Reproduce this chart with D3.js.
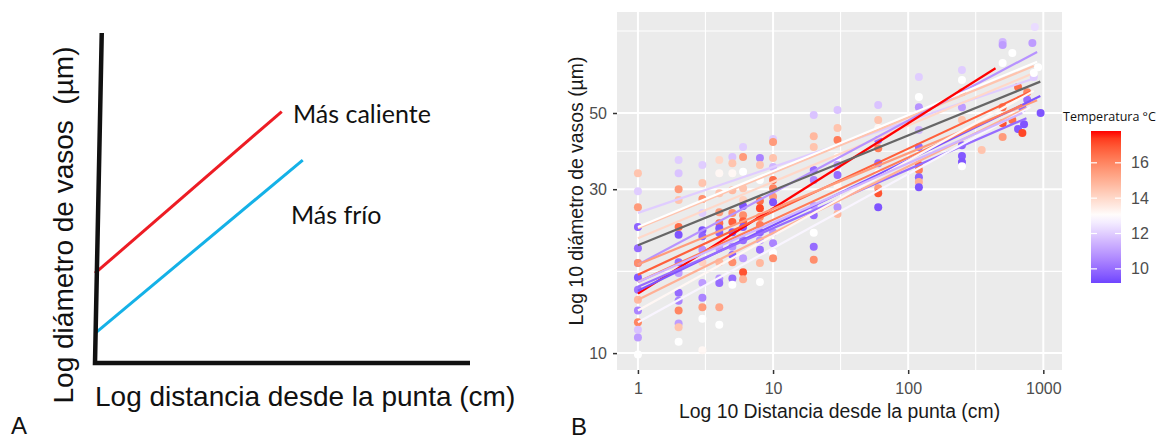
<!DOCTYPE html>
<html>
<head>
<meta charset="utf-8">
<script src="https://cdn.jsdelivr.net/npm/d3@7"></script>
<style>
  html, body { margin: 0; padding: 0; background: #fff; }
  svg { display: block; }
  text { font-family: "Liberation Sans", Arial, sans-serif; }
</style>
</head>
<body>
<svg id="chart" width="1166" height="441"></svg>
<script>
// ---- panel A (schematic, arbitrary 0..10 units) ----
const schemeAxes = [[0.18, 10], [0, 0], [10, 0]]
const warmLine = [[0, 2.72], [4.98, 7.62]]
const coldLine = [[0, 0.9], [5.54, 6.15]]

// ---- panel B ----
const xBreaks = [1, 10, 100, 1000]
const xMinor = [3.16, 31.6, 316]
const yBreaks = [10, 30, 50]
const yMinor = [17.3, 38.7, 86.6]
const legendBreaks = [10, 12, 14, 16]
const tempLimits = [9.2, 17.8]
const tempMid = 13

// fitted lines: temperature, diameter at 1 cm, last distance, diameter at last distance
const lineTemp =    [12,   14.5, 14,   10.8, 13,   17.8, 16.8, 15.5, 9.5,  10,   15,   16.2, 13.2, 12.8, 11.5]
const lineStart =   [25.6, 23.1, 21.6, 18.1, 23.3, 14.9, 16.9, 18.1, 15.2, 15.6, 14.3, 16.1, 13.3, 12.3, 16.1]
const lineEndDist = [850,  850,  800,  900,  900,  443,  800,  900,  950,  750,  750,  700,  850,  800,  700]
const lineEndDiam = [63,   68.5, 64.7, 75.3, 70.5, 67.5, 57.7, 54.5, 56,   48.3, 51.7, 52.8, 58,   52,   50]
// overall fit (grey)
const overallLine = [[1, 20.6], [950, 61.7]]

// measured points, grouped by distance
const pointDist = [1, 2, 3, 4, 5, 6, 8, 10, 20, 30, 60, 120, 250, 350, 500, 590, 650, 700, 720, 760, 830, 850, 865, 915, 955]
const pointDiam = [
  [33.4, 29.6, 26.6, 23.3, 20.2, 18.3, 18.3, 16.6, 15.3, 14.3, 13.3, 12.3, 11.7, 11.1, 9.9],
  [36.5, 33.4, 30.0, 27.9, 23.3, 22.1, 18.4, 17.1, 15.0, 14.2, 13.3, 12.2, 11.9, 10.8],
  [35.3, 31.3, 28.1, 25.6, 22.8, 21.9, 20.0, 18.4, 16.0, 14.5, 13.6, 12.6, 10.2],
  [36.5, 33.4, 29.2, 25.7, 23.9, 23.1, 22.4, 20.2, 18.4, 16.5, 16.0, 13.6, 12.1],
  [37.2, 35.7, 33.4, 29.8, 25.6, 24.1, 22.5, 20.4, 19.3, 18.4, 16.5, 15.8],
  [39.8, 37.2, 33.7, 30.2, 27.9, 26.8, 25.2, 24.2, 23.3, 21.3, 18.9, 17.2, 16.4],
  [37.0, 35.3, 31.9, 27.7, 26.4, 24.9, 23.6, 22.5, 21.3, 20.0, 18.3, 16.1],
  [42.0, 41.2, 37.0, 34.8, 31.9, 30.2, 28.5, 27.5, 22.5, 20.9, 19.6, 18.9],
  [49.3, 42.8, 39.8, 34.1, 31.9, 26.8, 25.2, 22.4, 20.4, 18.7],
  [51.0, 45.2, 41.7, 37.2, 35.3, 33.0, 30.4, 26.6, 25.4],
  [52.8, 47.7, 45.2, 41.7, 39.5, 35.7, 33.4, 30.2, 29.2, 26.6],
  [63.6, 55.7, 52.0, 44.6, 39.8, 35.3, 34.1, 32.5, 31.5, 30.4],
  [66.7, 62.4, 57.5, 52.0, 47.7, 40.3, 37.5, 36.0, 35.0],
  [39.0],
  [80.5, 78.9, 69.9, 52.0, 46.7, 42.6],
  [74.7, 47.7],
  [59.5, 44.9],
  [51.7, 43.7],
  [46.4],
  [57.5, 54.6],
  [80.0],
  [63.6, 65.4],
  [89.0],
  [68.0],
  [50.0]
]
const pointTemp = [
  [14.5, 12, 15.5, 9.8, 10, 10.8, 15.8, 9.6, 10.2, 14.8, 10.5, 16, 11.8, 11, 13],
  [12, 11.8, 15.5, 14.5, 16.5, 9.5, 10, 11, 10, 10.5, 16, 11, 14.5, 13],
  [12, 14.5, 15.8, 12, 9.5, 9.8, 10.8, 14.2, 11, 10.5, 15.5, 13, 13.2],
  [14, 13.2, 14.5, 15.5, 16.5, 9.5, 9.7, 11, 14.8, 10.8, 10, 15.2, 13],
  [11.8, 14.5, 13.2, 14.8, 15.8, 16.8, 9.5, 10.8, 9.7, 15.8, 10, 13],
  [12, 15.5, 13, 14.5, 14.2, 9.5, 15.8, 16.8, 9.6, 10, 11, 17, 15],
  [10.5, 14.5, 13, 16.5, 17.2, 15.8, 16.2, 9.8, 10.8, 10, 14.8, 13],
  [12, 15.5, 14.5, 11.5, 16.5, 16, 15.5, 9.5, 10.8, 10.5, 13, 15.8],
  [11.8, 14.8, 14.5, 10, 10.5, 11, 10, 13, 10, 15.8],
  [11.8, 14.5, 16.2, 13, 11, 10, 13.2, 10.8, 14.8],
  [11.8, 14.5, 13.2, 10, 16.2, 10, 13, 15.5, 17, 9.5],
  [12, 13, 10.8, 11.5, 10, 16.8, 16.2, 9.8, 15, 9.5],
  [12, 13, 15.5, 11, 14.5, 9.8, 9.6, 9.5, 13],
  [14.5],
  [11.5, 11, 13, 16.5, 17, 15.5],
  [13, 16.5],
  [16.5, 9.6],
  [9.8, 17.2],
  [9.5],
  [16, 10],
  [11],
  [12, 13],
  [12.3],
  [13],
  [9.5]
]

const svg = d3.select("#chart")

// ================= PANEL A =================
let ax = d3.scaleLinear().domain([0, 10]).range([95, 470])
let ay = d3.scaleLinear().domain([0, 10]).range([363, 33])
let aLine = d3.line().x(d => ax(d[0])).y(d => ay(d[1]))

let panelA = svg.append("g")

panelA.append("path")
  .attr("d", aLine(warmLine))
  .attr("fill", "none")
  .attr("stroke", "#ed1c24")
  .attr("stroke-width", 3)

panelA.append("path")
  .attr("d", aLine(coldLine))
  .attr("fill", "none")
  .attr("stroke", "#14b1e7")
  .attr("stroke-width", 3)

panelA.append("path")
  .attr("d", aLine(schemeAxes))
  .attr("fill", "none")
  .attr("stroke", "#111")
  .attr("stroke-width", 4.5)
  .attr("stroke-linejoin", "miter")

panelA.append("text")
  .text("Más caliente")
  .attr("x", 293)
  .attr("y", 123)
  .style("font-family", "Lato, 'Open Sans', sans-serif")
  .style("font-size", "25px")
  .style("fill", "#111")

panelA.append("text")
  .text("Más frío")
  .attr("x", 291)
  .attr("y", 224)
  .style("font-family", "Lato, 'Open Sans', sans-serif")
  .style("font-size", "25px")
  .style("fill", "#111")

panelA.append("text")
  .text("Log diámetro de vasos\u00a0\u00a0(µm)")
  .attr("transform", "translate(73, 225) rotate(-90)")
  .attr("text-anchor", "middle")
  .style("font-size", "28px")
  .style("fill", "#111")

panelA.append("text")
  .text("Log distancia desde la punta (cm)")
  .attr("x", 95)
  .attr("y", 406)
  .style("font-size", "28px")
  .style("fill", "#111")

panelA.append("text")
  .text("A")
  .attr("x", 11)
  .attr("y", 434)
  .style("font-size", "24px")
  .style("fill", "#111")

// ================= PANEL B =================
const P = { left: 617, right: 1062, top: 12, bottom: 370 }

let x = d3.scaleLog().domain([0.7, 1375]).range([P.left, P.right])
let y = d3.scaleLog().domain([8.93, 98.4]).range([P.bottom, P.top])

let colour = d3.scaleLinear()
  .domain([tempMid - 4.8, tempMid, tempMid + 4.8])
  .range(["blue", "white", "red"])
  .interpolate(d3.interpolateLab)
  .clamp(true)

let panelB = svg.append("g")

panelB.append("rect")
  .attr("x", P.left)
  .attr("y", P.top)
  .attr("width", P.right - P.left)
  .attr("height", P.bottom - P.top)
  .attr("fill", "#ebebeb")

// gridlines
panelB.selectAll(".xminor").data(xMinor).enter().append("line")
  .attr("x1", d => x(d)).attr("x2", d => x(d))
  .attr("y1", P.top).attr("y2", P.bottom)
  .attr("stroke", "#fff").attr("stroke-width", 1.1)
panelB.selectAll(".yminor").data(yMinor).enter().append("line")
  .attr("x1", P.left).attr("x2", P.right)
  .attr("y1", d => y(d)).attr("y2", d => y(d))
  .attr("stroke", "#fff").attr("stroke-width", 1.1)
panelB.selectAll(".xmajor").data(xBreaks).enter().append("line")
  .attr("x1", d => x(d)).attr("x2", d => x(d))
  .attr("y1", P.top).attr("y2", P.bottom)
  .attr("stroke", "#fff").attr("stroke-width", 2)
panelB.selectAll(".ymajor").data(yBreaks).enter().append("line")
  .attr("x1", P.left).attr("x2", P.right)
  .attr("y1", d => y(d)).attr("y2", d => y(d))
  .attr("stroke", "#fff").attr("stroke-width", 2)

// points
let points = []
pointDist.forEach((d, i) => {
  pointDiam[i].forEach((v, j) => {
    points.push({ dist: d, diam: v, temp: pointTemp[i][j] })
  })
})

panelB.selectAll(".pt").data(points).enter().append("circle")
  .attr("cx", p => x(p.dist))
  .attr("cy", p => y(p.diam))
  .attr("r", 4)
  .attr("fill", p => colour(p.temp))

// fitted lines
let lines = lineTemp.map((t, i) => ({
  temp: t,
  pts: [[1, lineStart[i]], [lineEndDist[i], lineEndDiam[i]]]
}))
let bLine = d3.line().x(d => x(d[0])).y(d => y(d[1]))

panelB.selectAll(".fit").data(lines).enter().append("path")
  .attr("d", l => bLine(l.pts))
  .attr("fill", "none")
  .attr("stroke", l => colour(l.temp))
  .attr("stroke-width", 2.2)

panelB.append("path")
  .attr("d", bLine(overallLine))
  .attr("fill", "none")
  .attr("stroke", "#666")
  .attr("stroke-width", 2.2)

// axes
let xAxis = panelB.append("g")
  .attr("transform", `translate(0, ${P.bottom})`)
  .call(d3.axisBottom(x).tickValues(xBreaks).tickFormat(d3.format("d")).tickSize(4).tickPadding(9))
let yAxis = panelB.append("g")
  .attr("transform", `translate(${P.left}, 0)`)
  .call(d3.axisLeft(y).tickValues(yBreaks).tickFormat(d3.format("d")).tickSize(4).tickPadding(6))

;[xAxis, yAxis].forEach(a => {
  a.select(".domain").remove()
  a.selectAll(".tick line").attr("stroke", "#333").attr("stroke-width", 1.5)
  a.selectAll(".tick text")
    .style("font-family", "'Liberation Sans', Arial, sans-serif")
    .style("font-size", "16px")
    .attr("fill", "#4d4d4d")
})

panelB.append("text")
  .text("Log 10 Distancia desde la punta (cm)")
  .attr("x", (P.left + P.right) / 2)
  .attr("y", 418)
  .attr("text-anchor", "middle")
  .style("font-size", "19.4px")
  .style("fill", "#1a1a1a")

panelB.append("text")
  .text("Log 10 diámetro de vasos (µm)")
  .attr("transform", `translate(583, ${(P.top + P.bottom) / 2}) rotate(-90)`)
  .attr("text-anchor", "middle")
  .style("font-size", "19.4px")
  .style("fill", "#1a1a1a")

panelB.append("text")
  .text("B")
  .attr("x", 571)
  .attr("y", 435)
  .style("font-size", "24px")
  .style("fill", "#111")

// legend colourbar
let legendY = d3.scaleLinear().domain(tempLimits).range([283, 131])
let legend = svg.append("g")

let grad = svg.append("defs").append("linearGradient")
  .attr("id", "tempGrad")
  .attr("x1", 0).attr("y1", 1).attr("x2", 0).attr("y2", 0)
d3.range(0, 1.0001, 0.05).forEach(f => {
  let t = tempLimits[0] + f * (tempLimits[1] - tempLimits[0])
  grad.append("stop").attr("offset", f).attr("stop-color", colour(t))
})

legend.append("text")
  .text("Temperatura °C")
  .attr("x", 1063)
  .attr("y", 121)
  .style("font-family", "'Open Sans', sans-serif")
  .style("font-size", "12.5px")
  .style("fill", "#111")

legend.append("rect")
  .attr("x", 1091)
  .attr("y", legendY(tempLimits[1]))
  .attr("width", 30)
  .attr("height", legendY(tempLimits[0]) - legendY(tempLimits[1]))
  .attr("fill", "url(#tempGrad)")

legendBreaks.forEach(b => {
  legend.append("line")
    .attr("x1", 1091).attr("x2", 1097)
    .attr("y1", legendY(b)).attr("y2", legendY(b))
    .attr("stroke", "#fff").attr("stroke-width", 1.2)
  legend.append("line")
    .attr("x1", 1115).attr("x2", 1121)
    .attr("y1", legendY(b)).attr("y2", legendY(b))
    .attr("stroke", "#fff").attr("stroke-width", 1.2)
  legend.append("text")
    .text(b)
    .attr("x", 1131)
    .attr("y", legendY(b))
    .attr("dy", "0.35em")
    .style("font-size", "16px")
    .style("fill", "#4d4d4d")
})
</script>
</body>
</html>
